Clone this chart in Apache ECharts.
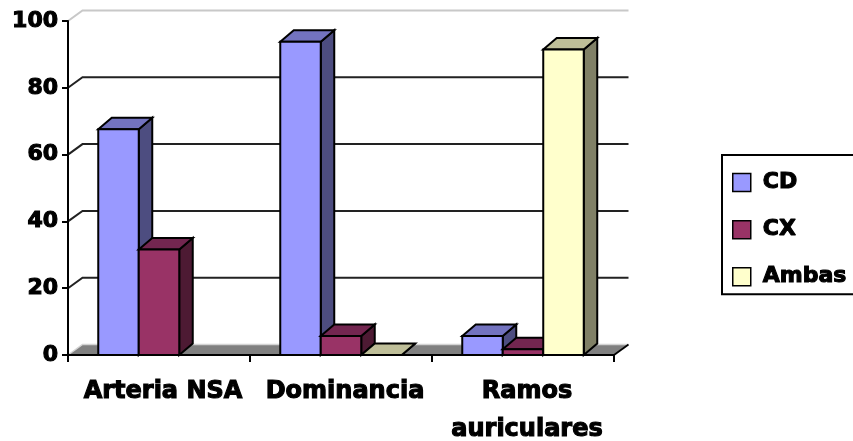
<!DOCTYPE html>
<html>
<head>
<meta charset="utf-8">
<script src="https://cdn.jsdelivr.net/npm/echarts/dist/echarts.min.js"></script>
<style>
  html, body { margin: 0; padding: 0; background: #fff; }
  #chart { width: 853px; height: 441px; }
</style>
</head>
<body>
<div id="chart"></div>
<script>
// Categories, series and axis ticks
const categories = ['Arteria NSA', 'Dominancia', 'Ramos\nauriculares'];
const seriesNames = ['CD', 'CX', 'Ambas'];
const cdValues = [67.6, 93.8, 5.7];
const cxValues = [31.6, 5.7, 1.7];
const ambasValues = [null, 0, 91.5];
const yTicks = [0, 20, 40, 60, 80, 100];

const FONT = 'DejaVu Sans';
// heavy text: bold face plus a thin outline of the same colour
const heavyText = {
  color: '#000',
  fontFamily: FONT,
  fontWeight: 'bold',
  textBorderColor: '#000',
  textBorderWidth: 1.1
};
// depth offset of the back wall / floor
const WALL_DX = 14.5, WALL_DY = 10.5;
// depth offset of each column
const BAR_DX = 13.5, BAR_DY = 11.5;

const palette = [
  { front: '#9999FF', side: '#4D4D80', top: '#7373BF' },
  { front: '#993366', side: '#4D1A33', top: '#732650' },
  { front: '#FFFFCC', side: '#808066', top: '#BFBF99' }
];

const edge = { stroke: '#000', lineWidth: 2, lineJoin: 'miter' };

// Column with front, side and top faces
function barRenderer(si) {
  return function (params, api) {
    const cat = api.value(0);
    const val = api.value(1);
    const base = api.coord([cat, 0]);
    const head = api.coord([cat, val]);
    const band = api.size([1, 0])[0];
    const bw = band * 0.2225;
    const x0 = base[0] - 1.5 * bw + si * bw;
    const x1 = x0 + bw;
    const yb = base[1];
    const yt = head[1];
    const c = palette[si];
    return {
      type: 'group',
      children: [
        {
          type: 'polygon',
          shape: { points: [[x1, yb], [x1 + BAR_DX, yb - BAR_DY], [x1 + BAR_DX, yt - BAR_DY], [x1, yt]] },
          style: Object.assign({ fill: c.side }, edge)
        },
        {
          type: 'polygon',
          shape: { points: [[x0, yt], [x0 + BAR_DX, yt - BAR_DY], [x1 + BAR_DX, yt - BAR_DY], [x1, yt]] },
          style: Object.assign({ fill: c.top }, edge)
        },
        {
          type: 'rect',
          shape: { x: x0, y: yt, width: bw, height: yb - yt },
          style: Object.assign({ fill: c.front }, edge)
        }
      ]
    };
  };
}

// Floor, back-wall gridlines and side-wall tick diagonals
function wallRenderer(params, api) {
  const cs = params.coordSys;
  const t = api.value(1);
  const y = api.coord([0, t])[1];
  const xl = cs.x;
  const xr = cs.x + cs.width;
  const yb = y - WALL_DY;
  if (t === 0) {
    return {
      type: 'group',
      children: [
        {
          type: 'polygon',
          shape: { points: [[xl, y], [xl + WALL_DX, yb], [xr + WALL_DX, yb], [xr, y]] },
          style: { fill: '#808080' }
        },
        {
          type: 'polyline',
          shape: { points: [[xl, y], [xl + WALL_DX, yb], [xr + WALL_DX, yb]] },
          style: { stroke: '#d4d4d4', lineWidth: 1.5, fill: null }
        },
        {
          type: 'line',
          shape: { x1: xr, y1: y, x2: xr + WALL_DX, y2: yb },
          style: { stroke: '#000', lineWidth: 1.8 }
        }
      ]
    };
  }
  const light = t === 100;
  return {
    type: 'polyline',
    shape: { points: [[xl, y], [xl + WALL_DX, yb], [xr + WALL_DX, yb]] },
    style: {
      stroke: light ? '#c8c8c8' : '#222',
      lineWidth: 2,
      fill: null
    }
  };
}

const valueSets = [cdValues, cxValues, ambasValues];

const barSeries = valueSets.map(function (vals, si) {
  return {
    name: seriesNames[si],
    type: 'custom',
    renderItem: barRenderer(si),
    itemStyle: { color: palette[si].front },
    encode: { x: 0, y: 1 },
    z: 3,
    data: vals.map(function (v, i) { return [i, v]; }).filter(function (d) { return d[1] != null; })
  };
});

const chart = echarts.init(document.getElementById('chart'), null, { renderer: 'canvas' });
chart.setOption({
  animation: false,
  backgroundColor: '#fff',
  grid: { left: 68, top: 21, width: 546, height: 334, containLabel: false, outerBoundsMode: 'none' },
  xAxis: {
    type: 'category',
    data: categories,
    boundaryGap: true,
    z: 10,
    axisLine: { show: true, lineStyle: { color: '#000', width: 2 } },
    axisTick: { show: true, length: 7, interval: 0, lineStyle: { color: '#000', width: 2 } },
    splitLine: { show: false },
    axisLabel: Object.assign({
      interval: 0,
      margin: 18,
      fontSize: 24,
      lineHeight: 38,
      padding: [0, 0, 0, 8]
    }, heavyText)
  },
  yAxis: {
    type: 'value',
    min: 0,
    max: 100,
    interval: 20,
    z: 10,
    axisLine: { show: true, lineStyle: { color: '#000', width: 2 } },
    axisTick: { show: true, length: 6, lineStyle: { color: '#000', width: 2 } },
    splitLine: { show: false },
    axisLabel: Object.assign({
      margin: 10,
      fontSize: 22
    }, heavyText)
  },
  legend: {
    orient: 'vertical',
    left: 722,
    top: 155,
    padding: [16, 40, 6, 10],
    itemGap: 24,
    itemWidth: 18,
    itemHeight: 18,
    icon: 'rect',
    borderColor: '#000',
    borderWidth: 2,
    itemStyle: { borderColor: '#000', borderWidth: 1.5 },
    data: seriesNames,
    textStyle: Object.assign({
      fontSize: 22,
      padding: [0, 0, 0, 7]
    }, heavyText)
  },
  series: [
    {
      name: 'wall',
      type: 'custom',
      renderItem: wallRenderer,
      encode: { x: 0, y: 1 },
      z: 1,
      silent: true,
      data: yTicks.map(function (t) { return [0, t]; })
    }
  ].concat(barSeries)
});
</script>
</body>
</html>
